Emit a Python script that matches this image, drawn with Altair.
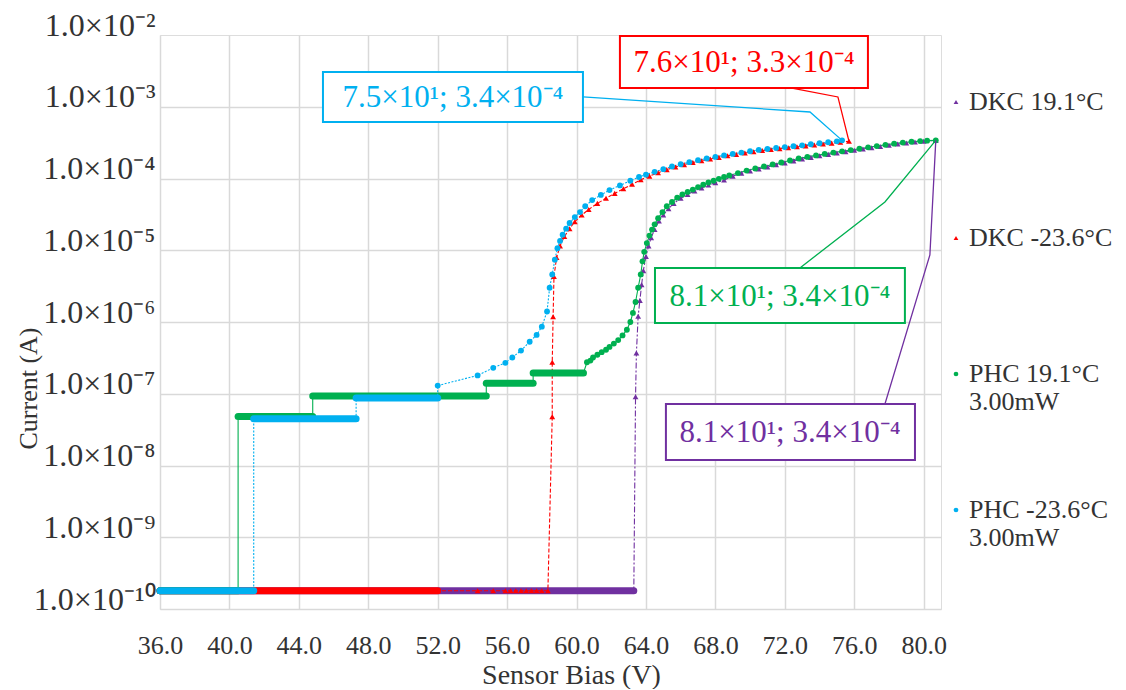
import altair as alt
import pandas as pd

FONT = "Liberation Serif"
TXT = "#333333"

# ---------------- series definitions ----------------
names = ["DKC 19.1°C| ", "DKC -23.6°C| ", "PHC 19.1°C|3.00mW", "PHC -23.6°C|3.00mW"]
colors = ["#7030A0", "#FF0000", "#00B050", "#00B0F0"]
shapes = ["triangle-up", "triangle-up", "circle", "circle"]

# DKC 19.1°C (purple)
dkc19_band_x0 = [36.0]
dkc19_band_x1 = [63.3]
dkc19_band_y = [1.8e-10]
dkc19_x = [63.4, 63.45, 63.55, 63.65, 63.75, 63.85, 64.0, 64.15, 64.3, 64.5, 64.75,
           65.0, 65.3, 65.6, 66.0, 66.4, 66.8, 67.2, 67.6, 68.0, 68.5,
           69.0, 69.5, 70.0, 70.5, 71.0, 71.5, 72.0, 72.5, 73.0, 73.5, 74.0, 74.5,
           75.0, 75.5, 76.0, 76.5, 77.0, 77.5, 78.0, 78.5, 79.0, 79.5, 80.0, 80.7]
dkc19_y = [9.1e-8, 3.7e-7, 1.2e-6, 2.0e-6, 3.3e-6, 5.2e-6, 8.2e-6, 1.15e-5, 1.5e-5, 1.95e-5, 2.55e-5,
           3.1e-5, 3.8e-5, 4.5e-5, 5.3e-5, 6.0e-5, 6.7e-5, 7.4e-5, 8.1e-5, 8.7e-5, 9.5e-5,
           1.08e-4, 1.18e-4, 1.27e-4, 1.36e-4, 1.45e-4, 1.55e-4, 1.65e-4, 1.76e-4, 1.87e-4, 1.97e-4,
           2.07e-4, 2.17e-4, 2.27e-4, 2.37e-4, 2.47e-4, 2.58e-4, 2.69e-4, 2.8e-4, 2.91e-4, 3.02e-4,
           3.12e-4, 3.22e-4, 3.3e-4, 3.4e-4]

# DKC -23.6°C (red)
dkc23_band_x0 = [36.0]
dkc23_band_x1 = [52.0]
dkc23_band_y = [1.8e-10]
dkc23_x = [54.3, 55.2, 55.9, 56.2, 56.5, 56.8, 57.1, 57.4, 57.7, 58.0, 58.35,
           58.6, 58.6, 58.65, 58.7, 58.85, 59.05, 59.3, 59.6, 59.9, 60.3, 60.7, 61.2, 61.7,
           62.2, 62.7, 63.2, 63.7, 64.2, 64.7, 65.2, 65.7, 66.2, 66.7, 67.2, 67.7, 68.2,
           68.7, 69.2, 69.7, 70.2, 70.7, 71.2, 71.7, 72.2, 72.7, 73.2, 73.7, 74.2, 74.7,
           75.2, 75.7]
dkc23_y = [1.8e-10, 1.8e-10, 1.8e-10, 1.8e-10, 1.8e-10, 1.8e-10, 1.8e-10, 1.8e-10, 1.8e-10, 1.8e-10, 1.8e-10,
           4.8e-8, 2.75e-7, 1.18e-6, 4.3e-6, 7.9e-6, 1.15e-5, 1.55e-5, 2.0e-5, 2.5e-5, 3.1e-5, 3.7e-5,
           4.5e-5, 5.3e-5, 6.2e-5, 7.2e-5, 8.3e-5, 9.6e-5, 1.08e-4, 1.2e-4, 1.33e-4, 1.45e-4, 1.56e-4,
           1.67e-4, 1.77e-4, 1.87e-4, 1.97e-4, 2.07e-4, 2.17e-4, 2.27e-4, 2.36e-4, 2.45e-4, 2.53e-4,
           2.61e-4, 2.69e-4, 2.77e-4, 2.85e-4, 2.93e-4, 3.02e-4, 3.11e-4, 3.2e-4, 3.3e-4]

# PHC 19.1°C 3.00mW (green)
phc19_band_x0 = [36.0, 40.5, 44.8, 54.8, 57.5]
phc19_band_x1 = [40.5, 44.8, 54.8, 57.5, 60.4]
phc19_band_y = [1.8e-10, 4.8e-8, 9.3e-8, 1.4e-7, 1.95e-7]
phc19_x = [60.6, 60.8, 60.95, 61.2, 61.45, 61.7, 61.9, 62.15, 62.4, 62.65, 62.9, 63.1, 63.25,
           63.4, 63.55, 63.7, 63.8, 63.9, 64.05, 64.2, 64.35, 64.5, 64.7, 64.95, 65.2, 65.5,
           65.8, 66.1, 66.4, 66.7, 67.0, 67.3, 67.6, 67.9, 68.2, 68.5, 68.8, 69.3, 69.8, 70.3,
           70.8, 71.3, 71.8, 72.3, 72.8, 73.3, 73.8, 74.3, 74.8, 75.3, 75.8, 76.3, 76.8, 77.3,
           77.8, 78.3, 78.8, 79.3, 79.8, 80.2, 80.7]
phc19_y = [2.75e-7, 2.9e-7, 3.2e-7, 3.5e-7, 3.8e-7, 4.1e-7, 4.5e-7, 5.0e-7, 5.6e-7, 6.5e-7, 7.8e-7,
           1.0e-6, 1.34e-6, 1.9e-6, 3.0e-6, 4.6e-6, 7.0e-6, 9.5e-6, 1.26e-5, 1.6e-5, 1.94e-5, 2.3e-5,
           2.8e-5, 3.4e-5, 4.1e-5, 4.7e-5, 5.4e-5, 6.0e-5, 6.5e-5, 7.0e-5, 7.6e-5, 8.2e-5, 8.8e-5,
           9.3e-5, 9.9e-5, 1.05e-4, 1.1e-4, 1.19e-4, 1.29e-4, 1.38e-4, 1.47e-4, 1.57e-4, 1.67e-4,
           1.78e-4, 1.9e-4, 2.0e-4, 2.1e-4, 2.2e-4, 2.3e-4, 2.39e-4, 2.49e-4, 2.6e-4, 2.72e-4,
           2.83e-4, 2.95e-4, 3.06e-4, 3.17e-4, 3.25e-4, 3.32e-4, 3.37e-4, 3.4e-4]

# PHC -23.6°C 3.00mW (cyan)
phc23_band_x0 = [36.0, 41.4, 47.3]
phc23_band_x1 = [41.4, 47.3, 52.0]
phc23_band_y = [1.8e-10, 4.5e-8, 8.7e-8]
phc23_x = [52.0, 54.3, 55.2, 55.9, 56.3, 56.8, 57.3, 57.7, 58.0, 58.3, 58.45, 58.6, 58.75, 58.9,
           59.05, 59.2, 59.4, 59.6, 59.9, 60.2, 60.5, 60.9, 61.4, 61.9, 62.5, 63.1, 63.6, 64.0,
           64.5, 65.0, 65.5, 66.0, 66.5, 67.0, 67.5, 68.0, 68.5, 69.0, 69.5, 70.0, 70.5, 71.0,
           71.5, 72.0, 72.5, 73.0, 73.5, 74.0, 74.5, 75.0, 75.3]
phc23_y = [1.3e-7, 1.8e-7, 2.3e-7, 2.7e-7, 3.2e-7, 4.0e-7, 5.3e-7, 6.6e-7, 8.6e-7, 1.4e-6, 3.0e-6,
           4.6e-6, 7.4e-6, 1.07e-5, 1.35e-5, 1.65e-5, 2.0e-5, 2.4e-5, 2.9e-5, 3.4e-5, 4.1e-5, 5.0e-5,
           5.9e-5, 6.9e-5, 8.0e-5, 9.3e-5, 1.05e-4, 1.13e-4, 1.24e-4, 1.35e-4, 1.47e-4, 1.58e-4,
           1.69e-4, 1.8e-4, 1.9e-4, 2.0e-4, 2.1e-4, 2.2e-4, 2.3e-4, 2.4e-4, 2.5e-4, 2.58e-4, 2.66e-4,
           2.74e-4, 2.82e-4, 2.9e-4, 3.0e-4, 3.1e-4, 3.2e-4, 3.3e-4, 3.4e-4]

series = [
    (dkc19_band_x0, dkc19_band_x1, dkc19_band_y, dkc19_x, dkc19_y, [6, 2, 2, 2]),
    (dkc23_band_x0, dkc23_band_x1, dkc23_band_y, dkc23_x, dkc23_y, [4, 2]),
    (phc19_band_x0, phc19_band_x1, phc19_band_y, phc19_x, phc19_y, None),
    (phc23_band_x0, phc23_band_x1, phc23_band_y, phc23_x, phc23_y, [2, 1.5]),
]
for s in series:
    assert len(s[0]) == len(s[1]) == len(s[2])
    assert len(s[3]) == len(s[4]), (len(s[3]), len(s[4]))

# ---------------- annotations ----------------
ann_text = ["7.5×10¹; 3.4×10⁻⁴", "7.6×10¹; 3.3×10⁻⁴", "8.1×10¹; 3.4×10⁻⁴", "8.1×10¹; 3.4×10⁻⁴"]
ann_color = ["#00B0F0", "#FF0000", "#00B050", "#7030A0"]
ann_tx = [52.88, 69.65, 71.72, 72.30]
ann_ty = [1.37e-3, 4.2e-3, 2.3e-6, 2.93e-8]
box_x0 = [45.39, 62.50, 64.52, 65.15]
box_x1 = [60.37, 76.79, 78.92, 79.50]
box_y0 = [6.12e-4, 1.82e-3, 9.68e-7, 1.19e-8]
box_y1 = [3.05e-3, 9.68e-3, 5.66e-6, 7.2e-8]
lead_x = [[60.37, 73.45, 75.3], [72.41, 75.06, 75.7], [72.87, 77.77, 80.7], [77.77, 80.36, 80.7]]
lead_y = [[1.37e-3, 8.45e-4, 3.4e-4], [1.82e-3, 1.37e-3, 3.3e-4], [5.66e-6, 4.71e-5, 3.4e-4],
          [7.2e-8, 8.6e-6, 3.4e-4]]

x_ticks = [36, 40, 44, 48, 52, 56, 60, 64, 68, 72, 76, 80]
y_ticks = [1e-10, 1e-9, 1e-8, 1e-7, 1e-6, 1e-5, 1e-4, 1e-3, 1e-2]

# ---------------- encodings ----------------
X = alt.X("x:Q", scale=alt.Scale(domain=[36, 81], nice=False, zero=False),
          axis=alt.Axis(values=x_ticks, format=".1f", title="Sensor Bias (V)",
                        grid=True, gridColor="#d9d9d9", gridWidth=1.5, domain=False, ticks=False,
                        labelFont=FONT, labelFontSize=26, labelColor=TXT, labelPadding=23,
                        labelOverlap=False, labelFlush=False,
                        titleFont=FONT, titleFontSize=28, titleFontWeight="normal",
                        titleColor=TXT, titlePadding=3, titleX=411, titleAlign="center"))
EXP = "round(-log(datum.value)/LN10)"
Y = alt.Y("y:Q", scale=alt.Scale(type="log", domain=[1e-10, 1e-2], nice=False),
          axis=alt.Axis(values=y_ticks,
                        labelExpr="'1.0×10⁻' + (" + EXP + " == 10 ? '¹⁰' : substring('⁰¹²³⁴⁵⁶⁷⁸⁹', "
                                  + EXP + ", " + EXP + " + 1))",
                        title="Current (A)", grid=True, gridColor="#d9d9d9", gridWidth=1.5,
                        gridOpacity={"condition": {"test": "datum.value > 0.005", "value": 0}, "value": 1},
                        domain=False, ticks=False, labelOverlap=False,
                        labelFont=FONT, labelFontSize=32, labelColor=TXT, labelPadding=5,
                        labelBaseline="alphabetic",
                        titleFont=FONT, titleFontSize=26, titleFontWeight="normal", titleColor=TXT,
                        titleX=-132, titleY=353, titleAngle=-90, titleAlign="center",
                        titleBaseline="middle"))
X2 = alt.X2("x2:Q")
Y2 = alt.Y2("y2:Q")

layers = []

# bands (dense marker runs) and connecting lines, per series
for k, (bx0, bx1, by, px, py, dash) in enumerate(series):
    path = []
    for a, b, v in zip(bx0, bx1, by):
        path.append((a, v))
        path.append((b, v))
    path += list(zip(px, py))
    ldf = pd.DataFrame({"x": [p[0] for p in path], "y": [p[1] for p in path],
                        "i": list(range(len(path)))})
    kw = dict(color=colors[k], strokeWidth=1.1)
    if dash:
        kw["strokeDash"] = dash
    layers.append(alt.Chart(ldf).mark_line(**kw).encode(x=X, y=Y, order="i:Q"))
    bdf = pd.DataFrame({"x": bx0, "x2": bx1, "y": by})
    layers.append(alt.Chart(bdf).mark_rule(color=colors[k], strokeWidth=7, strokeCap="round")
                  .encode(x=X, x2=X2, y=Y))

# markers
rows = []
for k, (bx0, bx1, by, px, py, dash) in enumerate(series):
    for a, b in zip(px, py):
        rows.append({"x": a, "y": b, "s": names[k]})
pdf = pd.DataFrame(rows)
legend = alt.Legend(title=None, orient="none", legendX=783, legendY=54, direction="vertical",
                    labelFont=FONT, labelFontSize=26, labelColor=TXT, labelExpr="split(datum.label, '|')",
                    symbolSize=22, rowPadding=82, labelOffset=0, padding=0, labelLimit=300,
                    symbolStrokeWidth=0)
layers.append(alt.Chart(pdf).mark_point(filled=True, size=34, opacity=1).encode(
    x=X, y=Y,
    color=alt.Color("s:N", scale=alt.Scale(domain=names, range=colors), legend=legend),
    shape=alt.Shape("s:N", scale=alt.Scale(domain=names, range=shapes), legend=legend),
))

# leader lines
lrows = []
for k in range(4):
    for j, (a, b) in enumerate(zip(lead_x[k], lead_y[k])):
        lrows.append({"x": a, "y": b, "i": j, "k": k})
for k in range(4):
    ldf = pd.DataFrame([r for r in lrows if r["k"] == k])
    layers.append(alt.Chart(ldf).mark_line(color=ann_color[k], strokeWidth=1.3)
                  .encode(x=X, y=Y, order="i:Q"))

# boxes + texts
for k in range(4):
    bdf = pd.DataFrame({"x": [box_x0[k]], "x2": [box_x1[k]], "y": [box_y0[k]], "y2": [box_y1[k]]})
    layers.append(alt.Chart(bdf).mark_rect(fill="white", stroke=ann_color[k], strokeWidth=2)
                  .encode(x=X, x2=X2, y=Y, y2=Y2))
    tdf = pd.DataFrame({"x": [ann_tx[k]], "y": [ann_ty[k]], "t": [ann_text[k]]})
    layers.append(alt.Chart(tdf).mark_text(font=FONT, fontSize=31, color=ann_color[k],
                                           align="center", baseline="middle", dy=1)
                  .encode(x=X, y=Y, text="t:N"))

chart = alt.layer(*layers).properties(
    width=781, height=574,
    padding={"left": 152, "top": 27, "right": 177, "bottom": 80},
    autosize=alt.AutoSizeParams(type="none"),
).configure_view(stroke=None).configure(background="white")

chart.save("out.html", embed_options={"renderer": "svg", "actions": False})
